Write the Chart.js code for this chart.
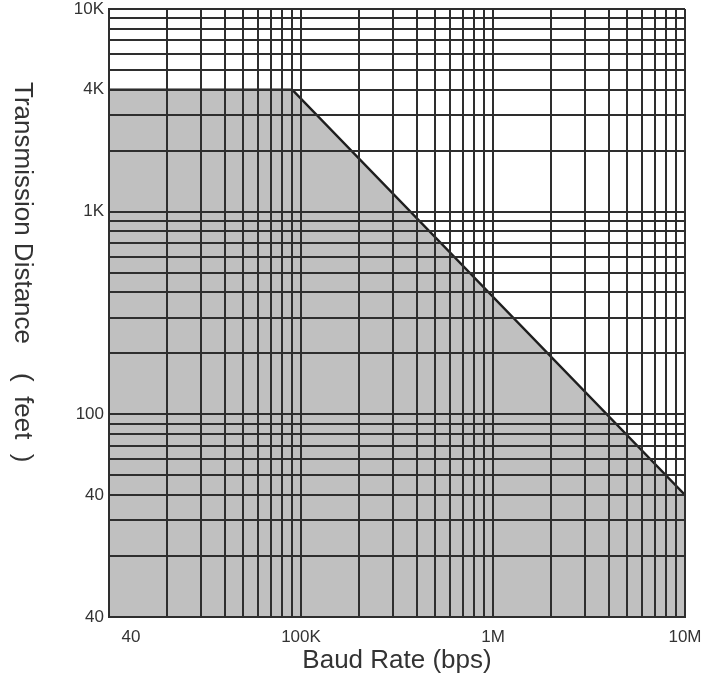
<!DOCTYPE html>
<html>
<head>
<meta charset="utf-8">
<script src="https://cdn.jsdelivr.net/npm/chart.js@4.4.1/dist/chart.umd.min.js"></script>
<style>
html,body{margin:0;padding:0;background:#fff;}
#wrap{width:704px;height:681px;}
</style>
</head>
<body>
<div id="wrap"><canvas id="c" width="704" height="681"></canvas></div>
<script>
// ---- data ----
const baudRates = [10000, 90000, 10000000];
const distances = [4000, 4000, 40];
const xMin = 10000, xMax = 10000000;
const yMin = 10, yMax = 10000;
const xTickValues = [13000, 100000, 1000000, 10000000];
const xTickLabels = ['40', '100K', '1M', '10M'];
const yTickValues = [10, 40, 100, 1000, 4000, 10000];
const yTickLabels = ['40', '40', '100', '1K', '4K', '10K'];
const xTitle = 'Baud Rate (bps)';
const yTitle = 'Transmission Distance    (  feet  )';

// ---- helpers ----
function logGrid(min, max) {
  const out = [];
  for (let p = min; p < max; p *= 10) {
    for (let m = 1; m < 10; m++) out.push(m * p);
  }
  out.push(max);
  return out;
}
const xTicks = logGrid(xMin, xMax).concat(xTickValues.filter(v => !logGrid(xMin, xMax).includes(v))).sort((a, b) => a - b);
const yTicks = logGrid(yMin, yMax);
const labelOnlyX = xTickValues.filter(v => !logGrid(xMin, xMax).includes(v));

const FONT = '"Liberation Sans", Arial, sans-serif';
const GRID = '#2e2e2e';
const TEXT = '#333333';

const yTitlePlugin = {
  id: 'yTitle',
  afterDraw(chart) {
    const c = chart.ctx;
    c.save();
    c.translate(22, chart.chartArea.top + 73);
    c.rotate(Math.PI / 2);
    c.font = '26px ' + FONT;
    c.fillStyle = TEXT;
    c.textAlign = 'left';
    c.textBaseline = 'middle';
    c.fillText(yTitle, 0, 0);
    c.restore();
  }
};

new Chart(document.getElementById('c'), {
  type: 'line',
  data: {
    datasets: [{
      data: baudRates.map((x, i) => ({ x: x, y: distances[i] })),
      fill: 'start',
      backgroundColor: '#c0c0c0',
      borderColor: '#1e1e1e',
      borderWidth: 2.5,
      pointRadius: 0,
      tension: 0
    }]
  },
  options: {
    responsive: false,
    animation: false,
    layout: { padding: { left: 0, right: 19, top: 9, bottom: 0 } },
    plugins: { legend: { display: false }, tooltip: { enabled: false } },
    scales: {
      x: {
        type: 'logarithmic',
        position: 'bottom',
        min: xMin, max: xMax,
        afterBuildTicks: s => { s.ticks = xTicks.map(v => ({ value: v })); },
        afterFit: s => { s.height = 64; s.paddingLeft = 0; s.paddingRight = 0; },
        ticks: {
          autoSkip: false, maxRotation: 0, minRotation: 0, padding: 10,
          color: TEXT, font: { family: FONT, size: 17 },
          callback: v => { const i = xTickValues.indexOf(v); return i >= 0 ? xTickLabels[i] : ''; }
        },
        grid: {
          z: 1, drawTicks: false, lineWidth: 2,
          color: ctx => (ctx.tick && labelOnlyX.includes(ctx.tick.value)) ? 'rgba(0,0,0,0)' : GRID
        },
        border: { z: 1, color: GRID, width: 2 },
        title: { display: true, text: xTitle, color: TEXT, font: { family: FONT, size: 26 }, padding: { top: 0, bottom: 5 } }
      },
      y: {
        type: 'logarithmic',
        position: 'left',
        min: yMin, max: yMax,
        afterBuildTicks: s => { s.ticks = yTicks.map(v => ({ value: v })); },
        afterFit: s => { s.width = 109; s.paddingTop = 0; s.paddingBottom = 0; },
        ticks: {
          autoSkip: false, padding: 5,
          color: TEXT, font: { family: FONT, size: 17 },
          callback: v => { const i = yTickValues.indexOf(v); return i >= 0 ? yTickLabels[i] : ''; }
        },
        grid: { z: 1, drawTicks: false, lineWidth: 2, color: GRID },
        border: { z: 1, color: GRID, width: 2 }
      }
    }
  },
  plugins: [yTitlePlugin]
});
</script>
</body>
</html>
